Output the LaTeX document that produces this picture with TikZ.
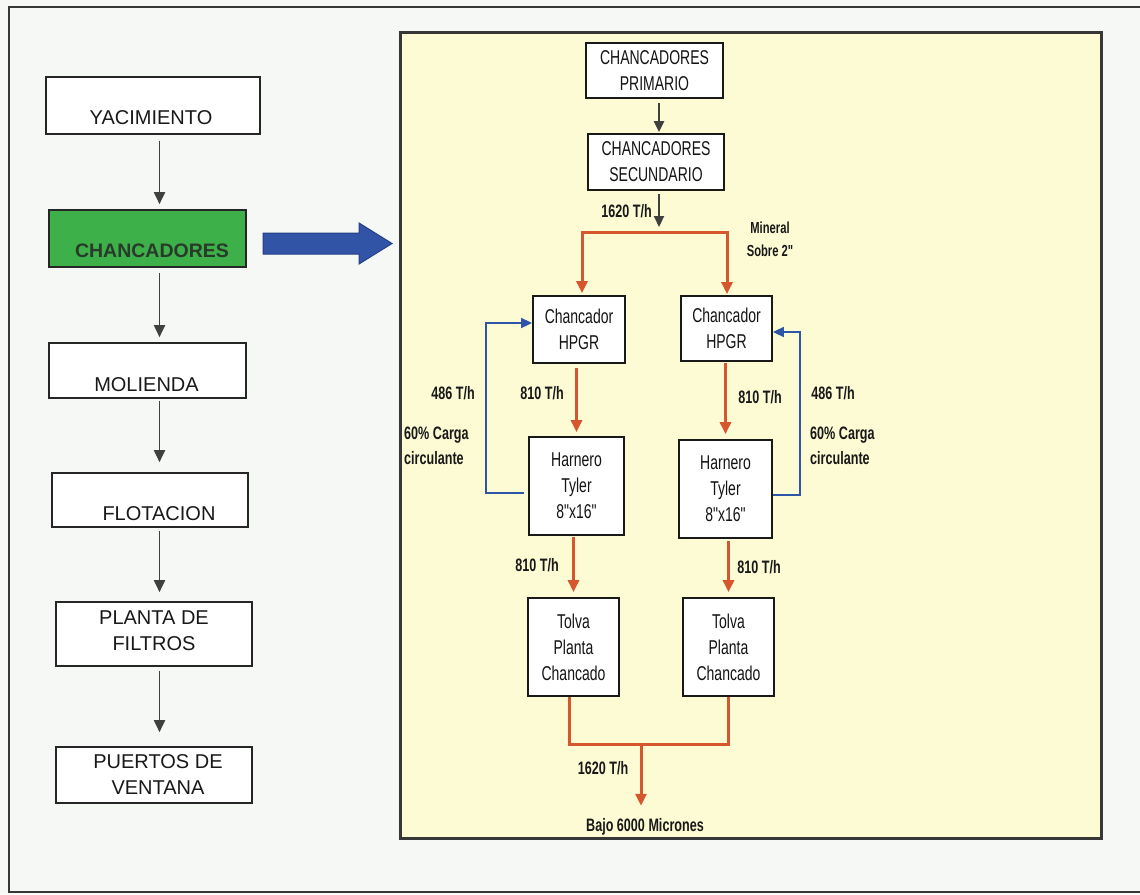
\documentclass[tikz,border=0pt]{standalone}
\usepackage{fontspec}
\setmainfont{Liberation Sans}
\newfontfamily\narrowfont[FakeStretch=0.7]{Liberation Sans}
\usetikzlibrary{arrows.meta}

\definecolor{paper}{RGB}{246,248,245}
\definecolor{panel}{RGB}{252,251,212}
\definecolor{framegray}{RGB}{55,55,55}
\definecolor{crushgreen}{RGB}{62,176,74}
\definecolor{redflow}{RGB}{214,86,46}
\definecolor{bluefb}{RGB}{47,85,168}
\definecolor{bigblue}{RGB}{50,84,166}
\definecolor{bigblueline}{RGB}{36,62,135}

\begin{document}
\begin{tikzpicture}[x=1pt,y=-1pt,
  lbox/.style={draw=black!85, line width=1.6pt, fill=white, inner sep=0pt},
  ltext/.style={font=\fontsize{20}{26}\selectfont, text=black!90, align=center, inner sep=0pt},
  rbox/.style={draw=black!90, line width=1.8pt, fill=white, align=center,
    font=\narrowfont\fontsize{20}{26}\selectfont, text=black!92, inner sep=0pt},
  lab/.style={font=\narrowfont\bfseries\fontsize{18}{25}\selectfont, text=black!90, inner sep=0pt},
  garr/.style={draw=black!75, line width=1.8pt, -{Triangle[width=11pt,length=12pt]}},
  darr/.style={draw=black!75, line width=2.2pt, -{Triangle[width=10pt,length=11pt]}},
  redline/.style={draw=redflow, line width=3pt, line join=miter},
  redarr/.style={redline, -{Triangle[width=11pt,length=12pt]}},
  fb/.style={draw=bluefb, line width=1.6pt, -{Triangle[width=10pt,length=11pt]}}]

% page and frames
\fill[paper] (0,0) rectangle (1140,894);
\useasboundingbox (0,0) rectangle (1140,894);
\draw[framegray, line width=2pt] (1141,7) -- (9,7) -- (9,892) -- (1141,892);
\draw[framegray, line width=3pt, fill=panel] (400,32) rectangle (1101,838);

% ---- main process chain (left column) ----
\node[lbox, minimum width=214, minimum height=57] (yac) at (153,105.5) {};
\node[ltext] (yact) at (151,118) {YACIMIENTO};

\node[lbox, fill=crushgreen, minimum width=197, minimum height=57] (chan) at (147.5,238.5) {};
\node[ltext, font=\bfseries\fontsize{19.5}{26}\selectfont, text={rgb,255:red,40;green,58;blue,42}] (chant) at (152,251) {CHANCADORES};

\node[lbox, minimum width=197, minimum height=55] (mol) at (147.5,370.5) {};
\node[ltext] (molt) at (146.5,385) {MOLIENDA};

\node[lbox, minimum width=196, minimum height=54] (flo) at (150,500) {};
\node[ltext] (flot) at (159,514) {FLOTACION};

\node[lbox, minimum width=196, minimum height=64] (pla) at (154,634) {};
\node[ltext] (plat) at (154,631) {PLANTA DE\\FILTROS};

\node[lbox, minimum width=196, minimum height=56] (pue) at (154,775) {};
\node[ltext] (puet) at (158,775) {PUERTOS DE\\VENTANA};

\coordinate (ax) at (159.5,0);
\draw[garr, shorten <=6pt, shorten >=5pt] (yac.south -| ax) -- (chan.north -| ax);
\draw[garr, shorten <=5pt, shorten >=5pt] (chan.south -| ax) -- (mol.north -| ax);
\draw[garr, shorten <=2pt, shorten >=10pt] (mol.south -| ax) -- (flo.north -| ax);
\draw[garr, shorten <=3pt, shorten >=9pt] (flo.south -| ax) -- (pla.north -| ax);
\draw[garr, shorten <=4pt, shorten >=14pt] (pla.south -| ax) -- (pue.north -| ax);

% ---- big arrow into the crushing detail ----
\fill[bigblue, draw=bigblueline, line width=1pt]
  (263,233) -- (359,233) -- (359,223) -- (392,243.5) -- (359,264) -- (359,254) -- (263,254) -- cycle;

% ---- crushing circuit (panel) ----
\node[rbox, minimum width=137, minimum height=55] (cp) at (654.5,70.5) {CHANCADORES\\PRIMARIO};
\node[rbox, minimum width=136, minimum height=56] (cs) at (656,162) {CHANCADORES\\SECUNDARIO};

\coordinate (cx) at (659,0);
\coordinate (split) at (659,232);
\draw[darr, shorten <=4pt, shorten >=1pt] (cp.south -| cx) -- (cs.north -| cx);
\draw[darr, shorten <=3pt, shorten >=5pt] (cs.south -| cx) -- (split);
\node[lab, anchor=east] (f1) at (652,211) {1620 T/h};
\node[lab, align=center, font=\narrowfont\bfseries\fontsize{16}{23}\selectfont] (minr) at (770,239.5) {Mineral\\Sobre 2"};

\node[rbox, minimum width=92, minimum height=67] (hl) at (579,329.5) {Chancador\\HPGR};
\node[rbox, minimum width=91, minimum height=65] (hr) at (726.5,328.5) {Chancador\\HPGR};

\coordinate (bl) at (582,232);
\coordinate (br) at (727,232);
\draw[redline, {Triangle[width=11pt,length=12pt]}-{Triangle[width=11pt,length=12pt]}, shorten <=2pt, shorten >=1pt]
  (bl |- hl.north) -- (bl) -- (br) -- (br |- hr.north);

\node[rbox, minimum width=95, minimum height=98] (tl) at (576.5,486) {Harnero\\Tyler\\8"x16"};
\node[rbox, minimum width=93, minimum height=98] (tr) at (725.5,489) {Harnero\\Tyler\\8"x16"};

\draw[redarr, shorten <=4pt, shorten >=4pt] (tl.north |- hl.south) -- (tl.north);
\draw[redarr, shorten <=1pt, shorten >=5pt] (tr.north |- hr.south) -- (tr.north);
\node[lab] (f2) at (542,393) {810 T/h};
\node[lab] (f3) at (760,397) {810 T/h};

% recirculation back to the HPGR crushers
\draw[fb] ([shift={(-4,7)}]tl.west) -- ++(-38,0) |- ([shift={(0,-6.5)}]hl.west);
\draw[fb] ([shift={(0,6)}]tr.east) -- ++(27,0) |- ([shift={(0,3.5)}]hr.east);
\node[lab] (r1) at (453,393) {486 T/h};
\node[lab] (r2) at (833,393) {486 T/h};
\node[lab, anchor=west, align=left] (c1) at (404,445.5) {60\% Carga\\circulante};
\node[lab, anchor=west, align=left] (c2) at (810,445.5) {60\% Carga\\circulante};

\node[rbox, minimum width=91, minimum height=98] (vl) at (573.5,647) {Tolva\\Planta\\Chancado};
\node[rbox, minimum width=91, minimum height=98] (vr) at (728.5,647) {Tolva\\Planta\\Chancado};

\draw[redarr, shorten <=1pt, shorten >=5pt] (vl.north |- tl.south) -- (vl.north);
\draw[redarr, shorten <=2pt, shorten >=5pt] (vr.north |- tr.south) -- (vr.north);
\node[lab] (f4) at (537,565) {810 T/h};
\node[lab] (f5) at (759,567) {810 T/h};

\coordinate (ml) at (569,744);
\coordinate (mr) at (728,744);
\coordinate (merge) at (641,744);
\draw[redline] (ml |- vl.south) -- (ml) -- (mr) -- (mr |- vr.south);
\node[lab, anchor=base] (out) at (645,831) {Bajo 6000 Micrones};
\draw[redarr, shorten >=12pt] (merge) -- (out.north -| merge);
\node[lab] (f6) at (603,768) {1620 T/h};

\end{tikzpicture}
\end{document}
